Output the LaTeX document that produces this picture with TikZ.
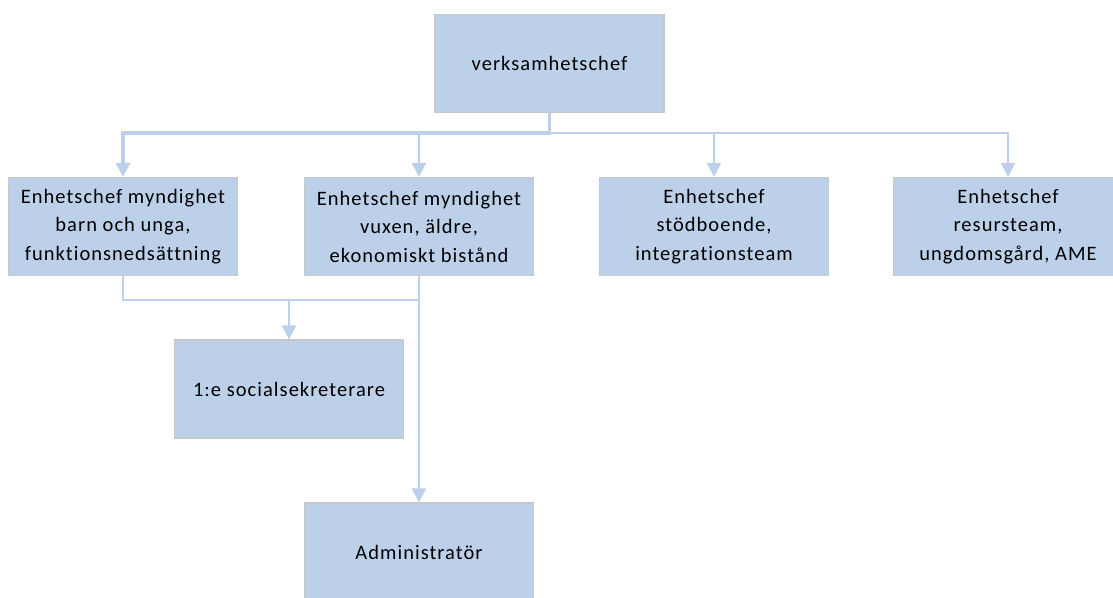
\documentclass[tikz,border=0pt]{standalone}
\usepackage{fontspec}
\setmainfont{Carlito}[LetterSpace=5, Ligatures=NoCommon]
\usetikzlibrary{arrows.meta}
\definecolor{boxfill}{RGB}{188,208,233}
\definecolor{boxline}{RGB}{200,200,200}
\tikzset{
  unit/.style={draw=boxline, line width=1.2pt, fill=boxfill, minimum width=229pt, minimum height=98pt,
    align=center, inner sep=0pt, font=\fontsize{20.5}{28.5}\selectfont},
  link/.style={draw=boxfill, line width=2pt},
  conn/.style={link, -{Triangle[width=14pt,length=14pt]}},
  heavyconn/.style={conn, line width=3.5pt}
}
\begin{document}
\begin{tikzpicture}[x=1pt, y=-1pt]
			%%%%% START %%%%%
			\useasboundingbox (0,0) rectangle (1113,597);
			
			\node[unit] (chef) at (549.5, 63.5) {verksamhetschef};
			
			\node[unit] (barn) at (123, 226.5) {Enhetschef myndighet\\barn och unga,\\funktionsnedsättning};
			\node[unit] (vuxen) at (419, 226.5) {Enhetschef myndighet\\vuxen, äldre,\\ekonomiskt bistånd};
			\node[unit] (stod) at (714, 226.5) {Enhetschef\\stödboende,\\integrationsteam};
			\node[unit] (resurs) at (1008, 226.5) {Enhetschef\\resursteam,\\ungdomsgård, AME};
			
			\node[unit] (soc) at (289, 389) {1:e socialsekreterare};
			\node[unit] (admin) at (419, 552) {Administratör};
			
			\draw[heavyconn] (chef.south) -- ++(0,20) coordinate (hub) -| (barn.north);
			\draw[conn] (hub) -| (vuxen.north);
			\draw[conn] (hub) -| (stod.north);
			\draw[conn] (hub) -| (resurs.north);
			
			\draw[link] (barn.south) -- ++(0,24) coordinate (join) -| (vuxen.south);
			\draw[conn] (join -| soc.north) -- (soc.north);
			\draw[conn] (vuxen.south) -- (admin.north);
			
			%%%%% END %%%%%
\end{tikzpicture}
\end{document}
